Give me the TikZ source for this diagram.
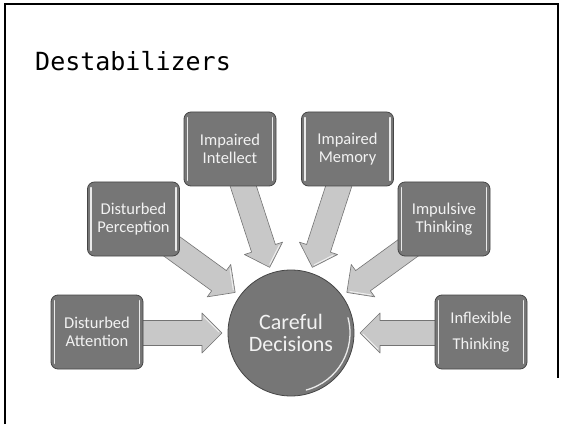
\documentclass[tikz,border=0pt]{standalone}
\usepackage{fontspec}
\setmainfont{Carlito}
\newfontfamily\titlefont{DejaVu Sans Mono}
\definecolor{boxgray}{RGB}{118,118,118}
\definecolor{arrgray}{RGB}{200,200,200}
\definecolor{arredge}{RGB}{115,115,115}
\definecolor{edgegray}{RGB}{70,70,70}
\tikzset{
  destbox/.style={draw=edgegray, line width=0.8pt, fill=boxgray, rounded corners=7pt,
    minimum width=92pt, minimum height=74pt, text={rgb,255:red,242;green,242;blue,242},
    align=center, font=\fontsize{16.5}{18}\selectfont, inner sep=0pt},
  hilite/.style={white, opacity=0.85, line width=1.3pt, line cap=round},
  arrowfill/.style={fill=arrgray, draw=arredge, line width=0.6pt, line join=round},
}
\newcommand\blockarr[1]{%
  \begin{scope}[shift={(cd.center)}, rotate=#1]
    \filldraw[arrowfill] (69,0) -- (89,20) -- (89,12.5) -- (175,12.5) -- (175,-12.5) -- (89,-12.5) -- (89,-20) -- cycle;
    \draw[white, opacity=0.7, line width=1pt, line cap=round] (72,-1) -- (87,-16);
  \end{scope}}
\newcommand\boxhl[1]{%
  \draw[hilite] ([xshift=4pt,yshift=-6pt]#1.north west) -- ([xshift=4pt,yshift=6pt]#1.south west);
  \draw[hilite] ([xshift=-4pt,yshift=-6pt]#1.north east) -- ([xshift=-4pt,yshift=6pt]#1.south east);}
\begin{document}
\begin{tikzpicture}[x=1pt,y=1pt]
\useasboundingbox (0,0) rectangle (563,424);
\fill[white] (0,0) rectangle (563,424);
\draw[line width=2pt] (5,0) -- (5,420) -- (558,420) -- (558,46);
\node[anchor=base west, font=\titlefont\fontsize{25}{30}\selectfont, inner sep=0pt] (title) at (35,353) {Destabilizers};
% centre circle
\node[circle, minimum size=126pt, fill=boxgray, draw=edgegray, line width=0.8pt,
  text={rgb,255:red,242;green,242;blue,242}, align=center, inner sep=0pt,
  font=\fontsize{22}{22}\selectfont] (cd) at (291,91) {Careful\\Decisions};
\draw[hilite] (cd.center) ++(-75:59) arc[start angle=-75, end angle=15, radius=59];
% arrows
\blockarr{180}
\blockarr{144}
\blockarr{108}
\blockarr{72}
\blockarr{36}
\blockarr{0}
% boxes
\node[destbox] (att) at (97,92) {Disturbed\\Attention};
\node[destbox] (per) at (133.5,205) {Disturbed\\Perception};
\node[destbox] (int) at (230,275) {Impaired\\Intellect};
\node[destbox] (mem) at (347.5,275) {Impaired\\Memory};
\node[destbox] (imp) at (444,205) {Impulsive\\Thinking};
\node[destbox] (inf) at (481,92) {Inflexible\\[8pt]Thinking};
\boxhl{att}\boxhl{per}\boxhl{int}\boxhl{mem}\boxhl{imp}\boxhl{inf}
\end{tikzpicture}
\end{document}
